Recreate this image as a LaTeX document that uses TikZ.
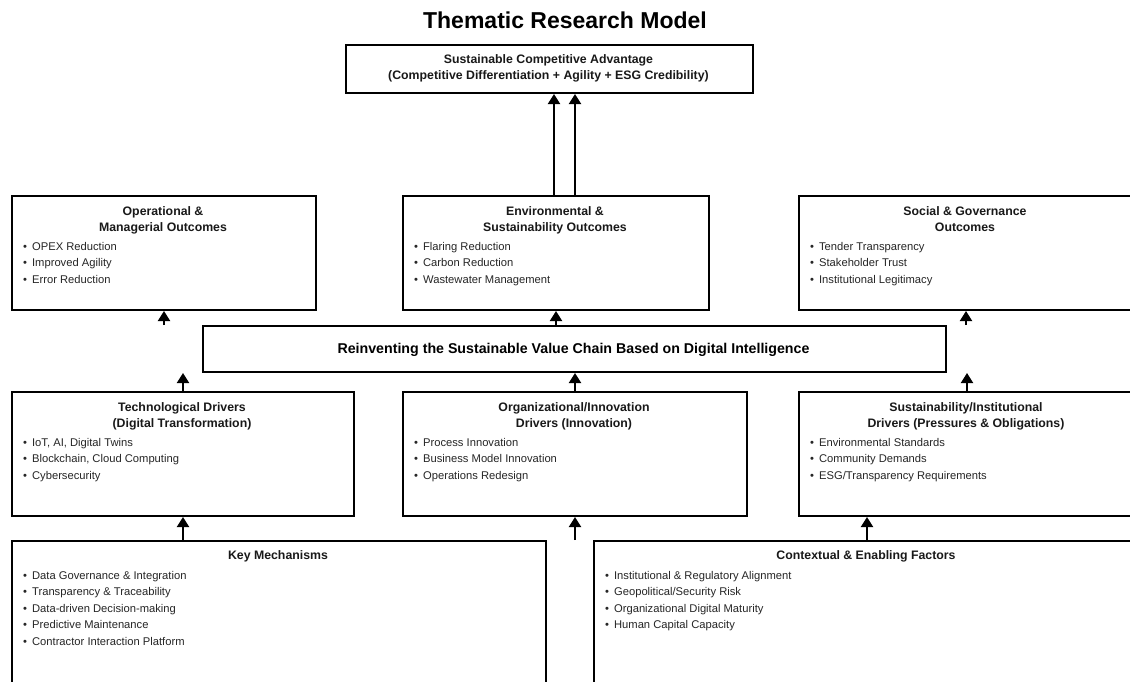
\documentclass[tikz,border=0pt]{standalone}
\usepackage{fontspec}
\setmainfont{Liberation Sans}
\usetikzlibrary{arrows.meta}
\tikzset{
  box/.style={draw=black, line width=2pt, anchor=north west, inner sep=0pt},
  arr/.style={line width=2pt, -{Triangle[width=12pt,length=10pt]}},
  hd/.style={font=\fontsize{12.3}{14}\selectfont\bfseries, anchor=base, inner sep=0pt, text=black!90},
  bl/.style={font=\fontsize{11.2}{13}\selectfont, anchor=base west, inner sep=0pt, text=black!85},
  ttl/.style={font=\fontsize{23}{27}\selectfont\bfseries, anchor=base, inner sep=0pt},
  barf/.style={font=\fontsize{14.2}{16}\selectfont\bfseries, anchor=base, inner sep=0pt}
}
\newcommand\bul[1]{\textbullet\hspace{5pt}#1}
\begin{document}
\begin{tikzpicture}[x=1pt,y=-1pt]
\path[use as bounding box] (0,0) rectangle (1130,681);
\clip (0,0) rectangle (1130,681);
\fill[white] (0,0) rectangle (1130,681);

% title
\node[ttl] (title) at (565,28) {Thematic Research Model};

% boxes
\node[box, minimum width=407pt, minimum height=48pt] (top) at (345,44) {};
\node[box, minimum width=304pt, minimum height=114pt] (op) at (11,195) {};
\node[box, minimum width=306pt, minimum height=114pt] (env) at (402,195) {};
\node[box, minimum width=334pt, minimum height=114pt] (soc) at (798,195) {};
\node[box, minimum width=743pt, minimum height=46pt] (bar) at (202,325) {};
\node[box, minimum width=342pt, minimum height=124pt] (tech) at (11,391) {};
\node[box, minimum width=344pt, minimum height=124pt] (org) at (402,391) {};
\node[box, minimum width=336pt, minimum height=124pt] (sust) at (798,391) {};
\node[box, minimum width=534pt, minimum height=180pt] (key) at (11,540) {};
\node[box, minimum width=546pt, minimum height=180pt] (ctx) at (593,540) {};

% top box text
\node[hd] (top-1) at (548.5,63) {Sustainable Competitive Advantage};
\node[hd] (top-2) at (548.5,79) {(Competitive Differentiation + Agility + ESG Credibility)};

% operational
\node[hd] (op-1) at (163,215) {Operational \&};
\node[hd] (op-2) at (163,231) {Managerial Outcomes};
\node[bl] (op-b1) at (23,250) {\bul{OPEX Reduction}};
\node[bl] (op-b2) at (23,266.5) {\bul{Improved Agility}};
\node[bl] (op-b3) at (23,283) {\bul{Error Reduction}};

% environmental
\node[hd] (env-1) at (555,215) {Environmental \&};
\node[hd] (env-2) at (555,231) {Sustainability Outcomes};
\node[bl] (env-b1) at (414,250) {\bul{Flaring Reduction}};
\node[bl] (env-b2) at (414,266.5) {\bul{Carbon Reduction}};
\node[bl] (env-b3) at (414,283) {\bul{Wastewater Management}};

% social
\node[hd] (soc-1) at (965,215) {Social \& Governance};
\node[hd] (soc-2) at (965,231) {Outcomes};
\node[bl] (soc-b1) at (810,250) {\bul{Tender Transparency}};
\node[bl] (soc-b2) at (810,266.5) {\bul{Stakeholder Trust}};
\node[bl] (soc-b3) at (810,283) {\bul{Institutional Legitimacy}};

% bar
\node[barf] (bar-t) at (573.5,353) {Reinventing the Sustainable Value Chain Based on Digital Intelligence};

% technological
\node[hd] (tech-1) at (182,411) {Technological Drivers};
\node[hd] (tech-2) at (182,427) {(Digital Transformation)};
\node[bl] (tech-b1) at (23,446) {\bul{IoT, AI, Digital Twins}};
\node[bl] (tech-b2) at (23,462.5) {\bul{Blockchain, Cloud Computing}};
\node[bl] (tech-b3) at (23,479) {\bul{Cybersecurity}};

% organizational
\node[hd] (org-1) at (574,411) {Organizational/Innovation};
\node[hd] (org-2) at (574,427) {Drivers (Innovation)};
\node[bl] (org-b1) at (414,446) {\bul{Process Innovation}};
\node[bl] (org-b2) at (414,462.5) {\bul{Business Model Innovation}};
\node[bl] (org-b3) at (414,479) {\bul{Operations Redesign}};

% sustainability
\node[hd] (sust-1) at (966,411) {Sustainability/Institutional};
\node[hd] (sust-2) at (966,427) {Drivers (Pressures \& Obligations)};
\node[bl] (sust-b1) at (810,446) {\bul{Environmental Standards}};
\node[bl] (sust-b2) at (810,462.5) {\bul{Community Demands}};
\node[bl] (sust-b3) at (810,479) {\bul{ESG/Transparency Requirements}};

% key mechanisms
\node[hd] (key-1) at (278,559) {Key Mechanisms};
\node[bl] (key-b1) at (23,579) {\bul{Data Governance \& Integration}};
\node[bl] (key-b2) at (23,595.5) {\bul{Transparency \& Traceability}};
\node[bl] (key-b3) at (23,612) {\bul{Data-driven Decision-making}};
\node[bl] (key-b4) at (23,628.5) {\bul{Predictive Maintenance}};
\node[bl] (key-b5) at (23,645) {\bul{Contractor Interaction Platform}};

% contextual
\node[hd] (ctx-1) at (866,559) {Contextual \& Enabling Factors};
\node[bl] (ctx-b1) at (605,579) {\bul{Institutional \& Regulatory Alignment}};
\node[bl] (ctx-b2) at (605,595.5) {\bul{Geopolitical/Security Risk}};
\node[bl] (ctx-b3) at (605,612) {\bul{Organizational Digital Maturity}};
\node[bl] (ctx-b4) at (605,628.5) {\bul{Human Capital Capacity}};

% connectors
\draw[arr] (env.north -| 554,0) -- (top.south -| 554,0);
\draw[arr] (env.north -| 575,0) -- (top.south -| 575,0);
\draw[arr] (op.south |- bar.north) -- (op.south);
\draw[arr] (bar.north -| env.south) -- (env.south);
\draw[arr] (soc.south |- bar.north) -- (soc.south);
\draw[arr] (tech.north) -- (tech.north |- bar.south);
\draw[arr] (org.north) -- (org.north |- bar.south);
\draw[arr] (sust.north) -- (sust.north |- bar.south);
\draw[arr] (key.north -| tech.south) -- (tech.south);
\draw[arr] (org.south |- key.north) -- (org.south);
\draw[arr] (ctx.north) -- (ctx.north |- sust.south);
\end{tikzpicture}
\end{document}
